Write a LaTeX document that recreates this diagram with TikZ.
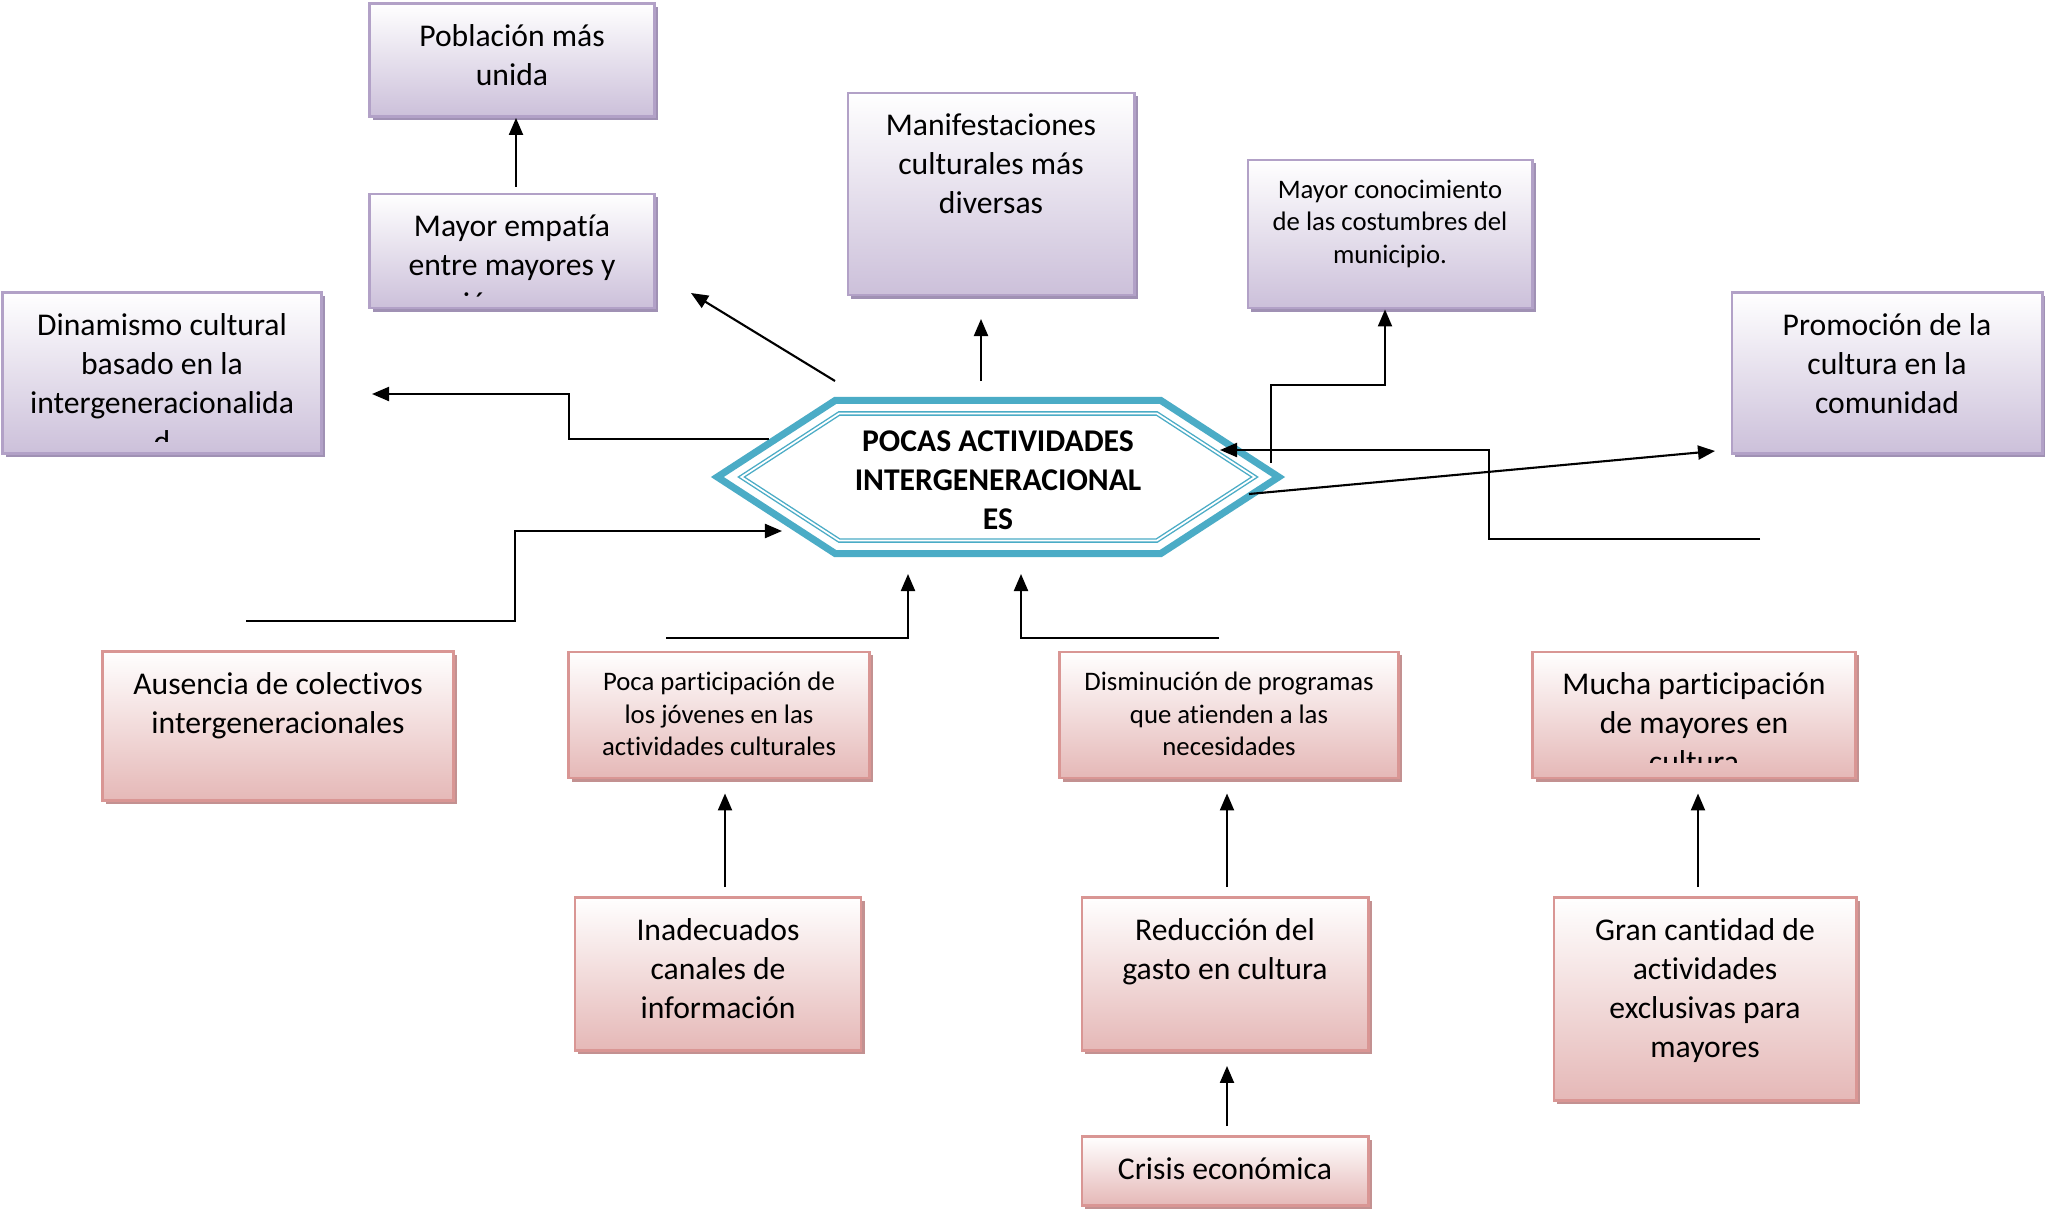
\documentclass[tikz,border=0pt]{standalone}
\usepackage{fontspec}
\setmainfont{Carlito}[Ligatures=NoCommon]
\usetikzlibrary{arrows.meta,shapes.symbols,shadows}
\definecolor{purpLine}{RGB}{178,161,199}
\definecolor{purpFill}{RGB}{204,192,218}
\definecolor{purpShade}{RGB}{160,145,180}
\definecolor{pinkLine}{RGB}{217,150,148}
\definecolor{pinkFill}{RGB}{229,184,183}
\definecolor{pinkShade}{RGB}{195,145,145}
\definecolor{hexTeal}{RGB}{75,172,198}

\begin{document}
\begin{tikzpicture}[
    x=0.01cm,y=-0.01cm,
    box/.style={draw,line width=0.8pt,top color=white,inner sep=0pt},
    purp/.style={box,draw=purpLine,bottom color=purpFill,
      drop shadow={shadow xshift=0.035cm,shadow yshift=-0.035cm,fill=purpShade,opacity=1}},
    pink/.style={box,draw=pinkLine,bottom color=pinkFill,
      drop shadow={shadow xshift=0.035cm,shadow yshift=-0.035cm,fill=pinkShade,opacity=1}},
    txt/.style={align=center,inner sep=0pt,font=\fontsize{9}{11.1}\selectfont},
    smalltxt/.style={txt,font=\fontsize{7.6}{9.3}\selectfont},
    arr/.style={-{Triangle[length=0.17cm,width=0.14cm]},line width=0.6pt}
    ]
    \path[fill=white] (0,0) rectangle (2045,1212);
    \useasboundingbox (0,0) rectangle (2045,1212);

    % central problem
    \node[signal,signal to=east and west,signal pointer angle=66,draw=hexTeal,line width=2pt,
      fill=white,minimum width=5.61cm,minimum height=1.53cm] (core) at (998,477) {};
    \node[signal,signal to=east and west,signal pointer angle=66,draw=hexTeal,line width=0.4pt,
      double=white,double distance=0.5pt,minimum width=5.13cm,minimum height=1.27cm] (corein) at (998,477) {};
    \node[txt,font=\fontsize{9}{11.1}\selectfont\bfseries] (coret) at (998,480)
      {POCAS ACTIVIDADES\\INTERGENERACIONAL\\ES};

    % effects
    \node[purp,minimum width=2.85cm,minimum height=1.13cm] (pob) at (512,60) {};
    \node[txt,anchor=north] (pobt) at ([yshift=-0.215cm]pob.north) {Población más\\unida};
    \node[purp,minimum width=2.85cm,minimum height=1.14cm] (emp) at (512,251) {};
    \begin{scope}
      \clip (370,194) rectangle (655,297);
      \node[txt,anchor=north] (empt) at ([yshift=-0.215cm]emp.north) {Mayor empatía\\entre mayores y\\jóvenes};
    \end{scope}
    \node[purp,minimum width=2.86cm,minimum height=2.02cm] (manif) at (991,194) {};
    \node[txt,anchor=north] (manift) at ([yshift=-0.215cm]manif.north) {Manifestaciones\\culturales más\\diversas};
    \node[purp,minimum width=2.84cm,minimum height=1.48cm] (conoc) at (1390,234) {};
    \node[smalltxt,anchor=north] (conoct) at ([yshift=-0.205cm]conoc.north) {Mayor conocimiento\\de las costumbres del\\municipio.};
    \node[purp,minimum width=3.19cm,minimum height=1.61cm] (dinam) at (162,373) {};
    \begin{scope}
      \clip (3,293) rectangle (322,441);
      \node[txt,anchor=north] (dinamt) at ([yshift=-0.215cm]dinam.north) {Dinamismo cultural\\basado en la\\intergeneracionalida\\d};
    \end{scope}
    \node[purp,minimum width=3.10cm,minimum height=1.61cm] (promo) at (1887,373) {};
    \node[txt,anchor=north] (promot) at ([yshift=-0.215cm]promo.north) {Promoción de la\\cultura en la\\comunidad};

    % causes
    \node[pink,minimum width=3.51cm,minimum height=1.49cm] (ausen) at (278,726) {};
    \node[txt,anchor=north] (ausent) at ([yshift=-0.215cm]ausen.north) {Ausencia de colectivos\\intergeneracionales};
    \node[pink,minimum width=3.01cm,minimum height=1.26cm] (pocap) at (719,715) {};
    \node[smalltxt,anchor=north] (pocapt) at ([yshift=-0.205cm]pocap.north) {Poca participación de\\los jóvenes en las\\actividades culturales};
    \node[pink,minimum width=3.39cm,minimum height=1.26cm] (dismin) at (1229,715) {};
    \node[smalltxt,anchor=north] (dismint) at ([yshift=-0.205cm]dismin.north) {Disminución de programas\\que atienden a las\\necesidades};
    \node[pink,minimum width=3.23cm,minimum height=1.26cm] (mucha) at (1694,715) {};
    \begin{scope}
      \clip (1533,652) rectangle (1856,762);
      \node[txt,anchor=north] (muchat) at ([yshift=-0.215cm]mucha.north) {Mucha participación\\de mayores en\\cultura};
    \end{scope}
    \node[pink,minimum width=2.86cm,minimum height=1.53cm] (inade) at (718,974) {};
    \node[txt,anchor=north] (inadet) at ([yshift=-0.215cm]inade.north) {Inadecuados\\canales de\\información};
    \node[pink,minimum width=2.86cm,minimum height=1.53cm] (reduc) at (1225,974) {};
    \node[txt,anchor=north] (reduct) at ([yshift=-0.215cm]reduc.north) {Reducción del\\gasto en cultura};
    \node[pink,minimum width=3.02cm,minimum height=2.03cm] (gran) at (1705,999) {};
    \node[txt,anchor=north] (grant) at ([yshift=-0.215cm]gran.north) {Gran cantidad de\\actividades\\exclusivas para\\mayores};
    \node[pink,minimum width=2.86cm,minimum height=0.69cm] (crisis) at (1225,1171) {};
    \node[txt,anchor=north] (crisist) at ([yshift=-0.215cm]crisis.north) {Crisis económica};

    % loose ends of the connectors
    \coordinate (b1) at (835,381);
    \coordinate (b2) at (691,293);
    \coordinate (c1) at (981,381);
    \coordinate (c2) at (981,319);
    \coordinate (d1) at (1271,463);
    \coordinate (d2) at (1385,385);
    \coordinate (e1) at (1249,494);
    \coordinate (e2) at (1715,451);
    \coordinate (f1) at (1760,539);
    \coordinate (f2) at (1489,450);
    \coordinate (f3) at (1220,450);
    \coordinate (g1) at (769,439);
    \coordinate (g2) at (569,394);
    \coordinate (g3) at (372,394);
    \coordinate (h1) at (246,621);
    \coordinate (h2) at (515,531);
    \coordinate (h3) at (782,531);
    \coordinate (i1) at (666,638);
    \coordinate (i2) at (908,574);
    \coordinate (j1) at (1219,638);
    \coordinate (j2) at (1021,574);

    \draw[arr] ([xshift=0.04cm,yshift=0.06cm]emp.north) -- ([xshift=0.04cm]pob.south);
    \draw[arr] (b1) -- (b2);
    \draw[arr] (c1) -- (c2);
    \draw[arr] (d1) |- (d2) -- (d2 |- conoc.south);
    \draw[arr] (e1) -- (e2);
    \draw[arr] (f1) -| (f2) -- (f3);
    \draw[arr] (g1) -| (g2) -- (g3);
    \draw[arr] (h1) -| (h2) -- (h3);
    \draw[arr] (i1) -| (i2);
    \draw[arr] (j1) -| (j2);
    \draw[arr,shorten <=0.09cm,shorten >=0.14cm] ([xshift=0.07cm]inade.north) -- ([xshift=0.07cm]inade.north |- pocap.south);
    \draw[arr,shorten <=0.09cm,shorten >=0.14cm] ([xshift=0.02cm]reduc.north) -- ([xshift=0.02cm]reduc.north |- dismin.south);
    \draw[arr,shorten <=0.09cm,shorten >=0.14cm] ([xshift=0.02cm]crisis.north) -- ([xshift=0.02cm]reduc.south);
    \draw[arr,shorten <=0.09cm,shorten >=0.14cm] ([xshift=-0.07cm]gran.north) -- ([xshift=-0.07cm]gran.north |- mucha.south);
  \end{tikzpicture}
\end{document}
